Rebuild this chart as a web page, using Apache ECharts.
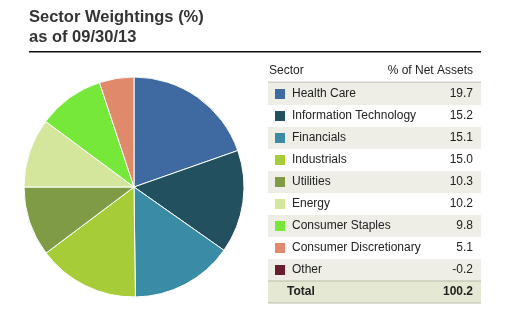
<!DOCTYPE html>
<html>
<head>
<meta charset="utf-8">
<script src="https://cdn.jsdelivr.net/npm/echarts@6/dist/echarts.min.js"></script>
<style>
html,body{margin:0;padding:0;background:#fff;}
#c{width:521px;height:329px;}
</style>
</head>
<body>
<div id="c"></div>
<script>
const titleLines = ['Sector Weightings (%)', 'as of 09/30/13'];
const headers = ['Sector', '% of Net Assets'];
const sectors = ['Health Care', 'Information Technology', 'Financials', 'Industrials', 'Utilities', 'Energy', 'Consumer Staples', 'Consumer Discretionary', 'Other'];
const weights = [19.7, 15.2, 15.1, 15.0, 10.3, 10.2, 9.8, 5.1, -0.2];
const colors = ['#3e69a1', '#22505f', '#3a8ca6', '#a6cd38', '#7f9b45', '#d4e69b', '#76e83a', '#e0896b', '#6a1f2c'];
const totalLabel = 'Total';
const totalValue = '100.2';

const FONT = '"Liberation Sans", Arial, sans-serif';
const chart = echarts.init(document.getElementById('c'), null, {renderer: 'canvas'});

const pieData = [];
sectors.forEach((s, i) => {
  if (weights[i] > 0) pieData.push({name: s, value: weights[i], itemStyle: {color: colors[i]}});
});

const g = [];
// title
titleLines.forEach((t, i) => {
  g.push({type: 'text', left: 29, top: 9 + i * 20, style: {text: t, font: 'bold 16.5px ' + FONT, fill: '#333'}});
});
g.push({type: 'rect', shape: {x: 29, y: 51, width: 452, height: 1.6}, style: {fill: '#111'}});

// table
const tx0 = 268, tx1 = 481, rowH = 22, row0 = 83;
g.push({type: 'text', x: 269, y: 71, style: {text: headers[0], font: '12px ' + FONT, fill: '#222', textVerticalAlign: 'middle'}});
g.push({type: 'text', x: 473, y: 71, style: {text: headers[1], font: '12px ' + FONT, fill: '#222', textAlign: 'right', textVerticalAlign: 'middle'}});
g.push({type: 'rect', shape: {x: tx0, y: 81.5, width: tx1 - tx0, height: 1.5}, style: {fill: '#cfcfc8'}});
sectors.forEach((s, i) => {
  const top = row0 + i * rowH;
  const cy = top + rowH / 2;
  if (i % 2 === 0) g.push({type: 'rect', z: -1, shape: {x: tx0, y: top, width: tx1 - tx0, height: rowH}, style: {fill: '#eeeee7'}});
  g.push({type: 'rect', shape: {x: 275, y: cy - 5, width: 10, height: 10}, style: {fill: colors[i]}});
  g.push({type: 'text', x: 292, y: cy, style: {text: s, font: '12px ' + FONT, fill: '#222', textVerticalAlign: 'middle'}});
  g.push({type: 'text', x: 473, y: cy, style: {text: weights[i].toFixed(1), font: '12px ' + FONT, fill: '#222', textAlign: 'right', textVerticalAlign: 'middle'}});
});
const tTop = row0 + sectors.length * rowH;
g.push({type: 'rect', z: -1, shape: {x: tx0, y: tTop, width: tx1 - tx0, height: rowH}, style: {fill: '#e5e9d4'}});
g.push({type: 'rect', shape: {x: tx0, y: tTop - 0.5, width: tx1 - tx0, height: 1}, style: {fill: '#b8bda6'}});
g.push({type: 'rect', shape: {x: tx0, y: tTop + rowH - 0.5, width: tx1 - tx0, height: 1}, style: {fill: '#b8bda6'}});
g.push({type: 'text', x: 287, y: tTop + rowH / 2, style: {text: totalLabel, font: 'bold 12px ' + FONT, fill: '#222', textVerticalAlign: 'middle'}});
g.push({type: 'text', x: 473, y: tTop + rowH / 2, style: {text: totalValue, font: 'bold 12px ' + FONT, fill: '#222', textAlign: 'right', textVerticalAlign: 'middle'}});

chart.setOption({
  animation: false,
  backgroundColor: '#fff',
  graphic: g,
  series: [{
    type: 'pie',
    center: [134, 187],
    radius: [0, 110],
    startAngle: 90,
    clockwise: true,
    label: {show: false},
    labelLine: {show: false},
    emphasis: {disabled: true},
    itemStyle: {borderColor: '#fff', borderWidth: 1},
    data: pieData
  }]
});
</script>
</body>
</html>
